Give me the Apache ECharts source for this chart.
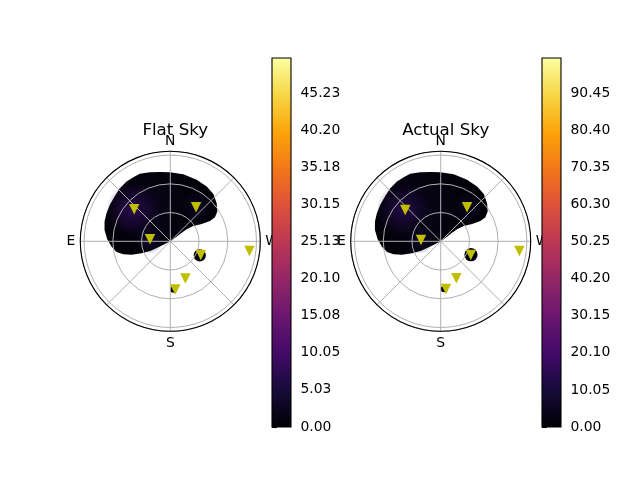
<!DOCTYPE html>
<html><head><meta charset="utf-8">
<script src="https://cdn.jsdelivr.net/npm/echarts@6/dist/echarts.min.js"></script>
<style>html,body{margin:0;padding:0;background:#fff}#c{width:640px;height:480px}</style>
</head><body><div id="c"></div>
<script>
// ---------- data ----------
const panelTitles = ['Flat Sky', 'Actual Sky'];
const compassLabels = {0: 'N', 90: 'E', 180: 'S', 270: 'W'};
const radialGridStep = 30;
const radiusMax = 94;
// stars: [zenith distance, azimuth deg]
const starsFlat = [[50.4,48.4],[44.6,322.9],[21.3,84.4],[34.9,245.7],[83.3,263.0],[41.8,202.1],[50.5,185.9]];
const starsActual = [[49.4,48.5],[45.0,322.3],[20.6,86.2],[34.5,245.5],[82.8,263.0],[42.0,202.9],[50.2,186.3]];
// outline of main sky region: [zenith distance, azimuth deg]
const regionOutline = [
  [0,0],[6.2,116.6],[14.0,116.6],[23.5,115.4],[32.5,112.7],[42.8,109.0],[51.0,105.5],[57.2,101.2],
  [61.6,95.2],[65.9,88.2],[69.7,80.2],[71.7,73.3],[72.8,66.3],[73.7,58.9],[74.8,50.7],[76.5,43.5],
  [77.3,36.2],[77.3,30.0],[77.3,24.3],[75.2,16.4],[73.3,8.5],[72.2,0.3],
  [71.4,349.0],[69.8,336.8],[68.7,326.4],[66.9,317.7],[62.7,309.4],[58.1,302.3],[53.0,298.3],
  [46.6,297.1],[37.5,299.0],[28.9,303.7],[21.2,306.3],[12.7,307.2],[3.8,303.7]
];
// small patches: [zenith distance, azimuth, patch radius]
const patchesFlat = [[34.1,244.5,6.4],[50.5,183.8,3.4]];
const patchesActual = [[34.6,246.1,6.9],[50.0,184.0,3.4]];
// intensity peaks: [zenith distance, azimuth, value]
const peaksFlat = [[52,50,7.5],[22,86,4.5],[46,322,3.5]];
const peaksActual = [[52,50,13],[22,86,8],[46,322,6]];
const baseFlat = 1.0, baseActual = 2.0;
const cbMaxFlat = 50.0, cbMaxActual = 100.0;
const cbTicksFlat = [0,5.03,10.05,15.08,20.10,25.13,30.15,35.18,40.20,45.23];
const cbTicksActual = [0,10.05,20.10,30.15,40.20,50.25,60.30,70.35,80.40,90.45];

// ---------- style ----------
const infernoStops = ['#000004','#160b39','#420a68','#6a176e','#932667','#bc3754','#dd513a','#f37819','#fca50a','#f6d746','#fcffa4'];
function hex2rgb(h){return [parseInt(h.substr(1,2),16),parseInt(h.substr(3,2),16),parseInt(h.substr(5,2),16)];}
function inferno(t){
  t = Math.max(0, Math.min(1, t));
  const n = infernoStops.length - 1, f = t * n, i = Math.min(Math.floor(f), n - 1), u = f - i;
  const a = hex2rgb(infernoStops[i]), b = hex2rgb(infernoStops[i+1]);
  return a.map((v,k)=>Math.round(v + (b[k]-v)*u));
}
const rgba = (c, a) => 'rgba(' + c[0] + ',' + c[1] + ',' + c[2] + ',' + a + ')';
const glowPx = [26, 14, 16];
const FONT = 'DejaVu Sans';
const centers = [[170.3, 241.3], [440.7, 241.3]];
const cbLefts = [272, 542];

function skyRender(outline, patches, peaks, base, cbMax){
  return function(params, api){
    const pts = outline.map(p => api.coord([p[0], p[1]]));
    const o = api.coord([0, 0]);
    const unitPx = r => { const e = api.coord([r, 0]); return Math.hypot(e[0]-o[0], e[1]-o[1]); };
    const mid = inferno(base * 2.2 / cbMax), edge = inferno(base * 0.3 / cbMax);
    const children = [{
      type: 'polygon', shape: {points: pts},
      style: {fill: {type: 'radial', x: 0.4, y: 0.45, r: 0.6,
        colorStops: [{offset: 0, color: rgba(mid,1)}, {offset: 1, color: rgba(edge,1)}]}}
    }];
    patches.forEach(p => {
      const c = api.coord([p[0], p[1]]);
      children.push({type: 'circle', shape: {cx: c[0], cy: c[1], r: unitPx(p[2])}, style: {fill: rgba(edge,1)}});
    });
    peaks.forEach((p, i) => {
      const c = api.coord([p[0], p[1]]);
      const col = inferno(p[2] / cbMax);
      children.push({type: 'circle', shape: {cx: c[0], cy: c[1], r: glowPx[i]},
        style: {fill: {type: 'radial', x: 0.5, y: 0.5, r: 0.5,
          colorStops: [{offset: 0, color: rgba(col,1)}, {offset: 0.35, color: rgba(col,0.6)}, {offset: 1, color: rgba(col,0)}]}}});
    });
    return {type: 'group', children};
  };
}
function cbRender(cbMax){
  return function(params, api){
    const p0 = api.coord([0, 0]), p1 = api.coord([1, api.value(1)]);
    return {type: 'rect', shape: {x: p0[0], y: p1[1], width: p1[0]-p0[0], height: p0[1]-p1[1]},
      style: {fill: {type: 'linear', x: 0, y: 1, x2: 0, y2: 0,
        colorStops: infernoStops.map((c, i) => ({offset: i/(infernoStops.length-1), color: c}))},
        stroke: '#000', lineWidth: 1.1}};
  };
}

const polar = [], angleAxis = [], radiusAxis = [], grid = [], xAxis = [], yAxis = [], series = [], title = [];
const sets = [
  {stars: starsFlat, patches: patchesFlat, peaks: peaksFlat, base: baseFlat, cbMax: cbMaxFlat, ticks: cbTicksFlat},
  {stars: starsActual, patches: patchesActual, peaks: peaksActual, base: baseActual, cbMax: cbMaxActual, ticks: cbTicksActual}
];
sets.forEach((s, k) => {
  title.push({text: panelTitles[k], left: centers[k][0], top: 117, textAlign: 'center',
    textStyle: {fontFamily: FONT, fontSize: 16.7, fontWeight: 'normal', color: '#000'}});
  polar.push({center: centers[k], radius: 90});
  angleAxis.push({polarIndex: k, type: 'value', min: 0, max: 360, interval: 45, startAngle: 90, clockwise: false, z: 3,
    axisLine: {lineStyle: {color: '#000', width: 1.1}}, axisTick: {show: false},
    splitLine: {show: true, lineStyle: {color: '#b0b0b0', width: 1}},
    axisLabel: {formatter: v => v === 0 ? '{n|N}' : (compassLabels[v] || ''), color: '#000', fontSize: 13.9, fontFamily: FONT, margin: 5,
      rich: {n: {fontSize: 13.9, fontFamily: FONT, color: '#000', lineHeight: 9}}}});
  radiusAxis.push({polarIndex: k, type: 'value', min: 0, max: radiusMax, interval: radialGridStep, z: 2,
    axisLine: {show: false}, axisTick: {show: false}, axisLabel: {show: false},
    splitLine: {show: true, lineStyle: {color: '#b0b0b0', width: 1}}});
  grid.push({left: cbLefts[k], top: 58, width: 19, height: 369, containLabel: false});
  xAxis.push({gridIndex: k, type: 'value', min: 0, max: 1, show: false});
  yAxis.push({gridIndex: k, type: 'value', min: 0, max: s.cbMax, position: 'right',
    axisLine: {show: false}, splitLine: {show: false},
    axisTick: {show: true, customValues: s.ticks, length: 4.9, lineStyle: {color: '#000', width: 1.1}},
    axisLabel: {show: true, customValues: s.ticks, formatter: v => v.toFixed(2), margin: 9.5, color: '#000', fontSize: 13.9, fontFamily: FONT}});
  series.push({type: 'custom', coordinateSystem: 'polar', polarIndex: k, z: 1, silent: true,
    data: [[0, 0]], renderItem: skyRender(regionOutline, s.patches, s.peaks, s.base, s.cbMax)});
  series.push({type: 'scatter', coordinateSystem: 'polar', polarIndex: k, z: 5, silent: true,
    data: s.stars, symbol: 'triangle', symbolRotate: 180, symbolSize: 10.5, itemStyle: {color: '#bfbf00', opacity: 1}});
  series.push({type: 'custom', coordinateSystem: 'cartesian2d', xAxisIndex: k, yAxisIndex: k, z: 6, silent: true,
    data: [[0, s.cbMax]], renderItem: cbRender(s.cbMax)});
});

const chart = echarts.init(document.getElementById('c'), null, {renderer: 'canvas'});
chart.setOption({backgroundColor: '#fff', animation: false, textStyle: {fontFamily: FONT},
  title, polar, angleAxis, radiusAxis, grid, xAxis, yAxis, series});
</script></body></html>
